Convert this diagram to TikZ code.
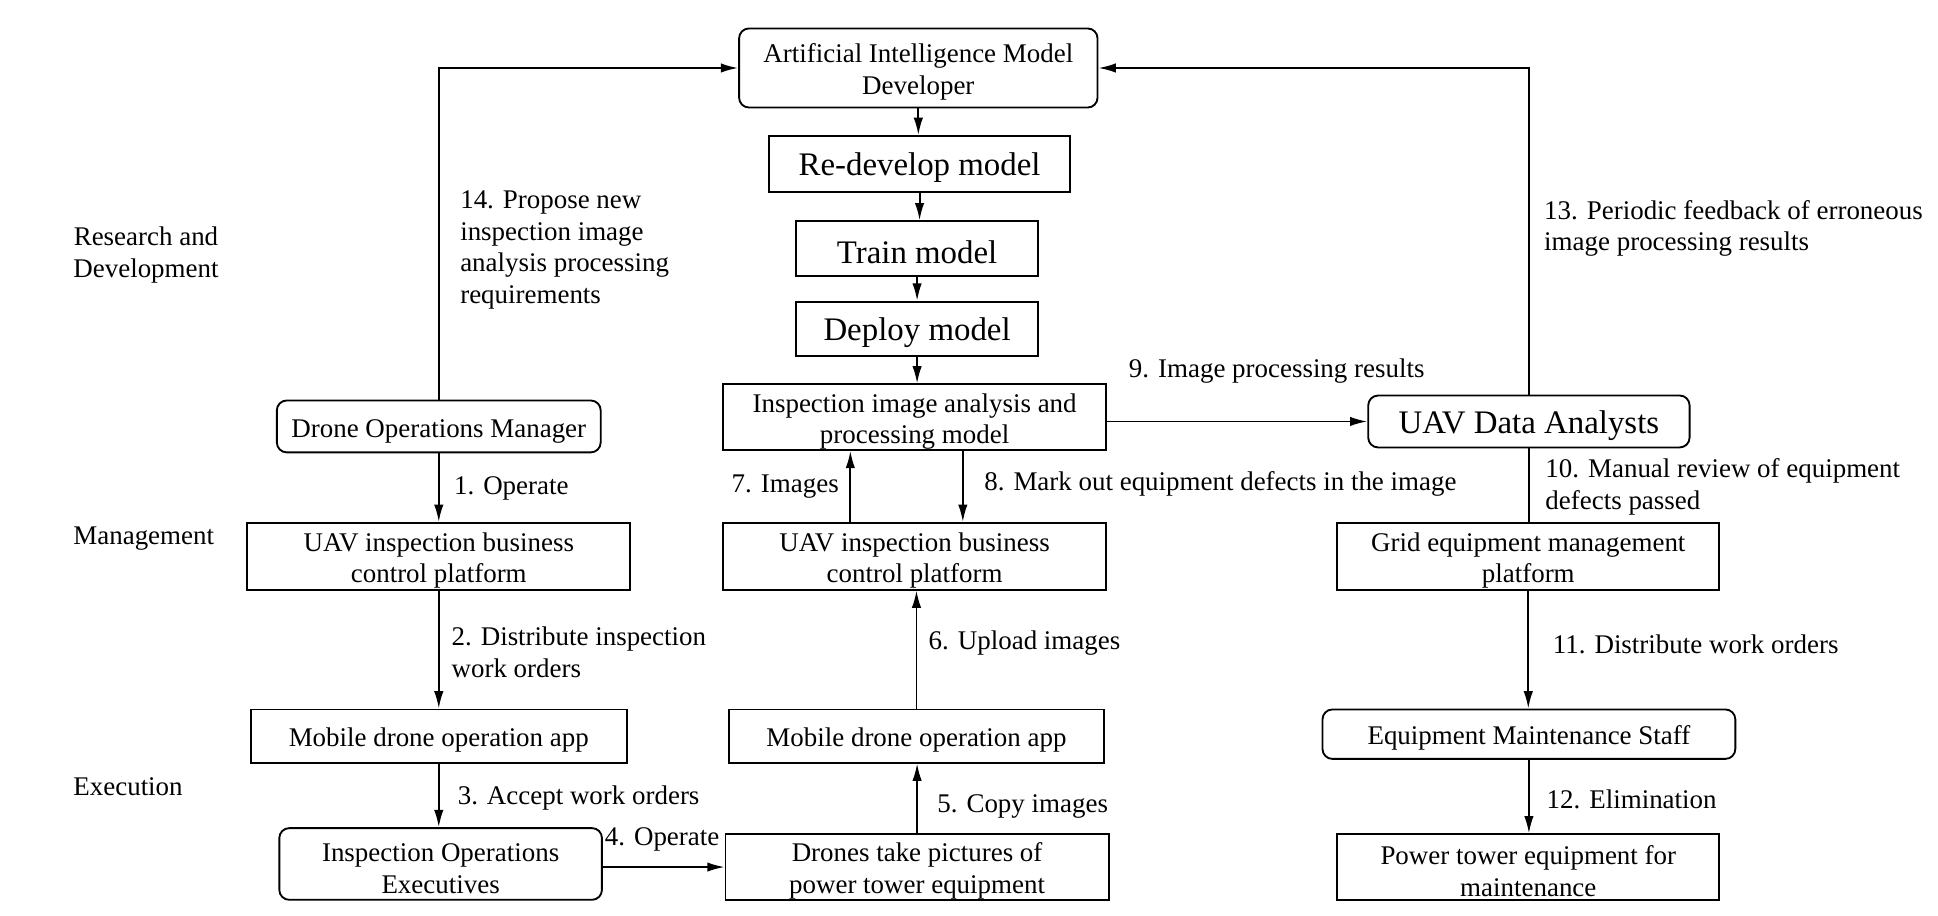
\documentclass[tikz,border=0pt]{standalone}
\usepackage{fontspec}
\setmainfont{Liberation Serif}
\usetikzlibrary{arrows.meta,calc}
\newcommand\nfont{\fontsize{10.9}{12.8}\selectfont}
\newcommand\lfont{\fontsize{13.3}{15.5}\selectfont}
\newcommand\tup{\rule{0pt}{11pt}}
\begin{document}
\begin{tikzpicture}[x=0.5pt,y=-0.5pt,
  box/.style={draw, line width=0.75pt, align=center, inner sep=0pt, font=\nfont,
    execute at begin node={\rule{0pt}{11pt}}},
  rbox/.style={box, rounded corners=4pt},
  big/.style={font=\lfont, execute at begin node={\rule{0pt}{12.4pt}}},
  arr/.style={line width=0.75pt, -{Latex[length=7pt,width=3.8pt]}},
  ln/.style={line width=0.75pt},
  lbl/.style={inner sep=0pt, font=\nfont, align=left, anchor=west,
    execute at begin node={\rule{0pt}{11pt}}}]
\useasboundingbox (0,0) rectangle (1568,741);
% category labels
\node[lbl, align=center] (rd) at (59,203) {\tup Research and\\Development};
\node[lbl] (mg) at (59,432) {Management};
\node[lbl] (ex) at (59,633) {Execution};
% nodes
\node[rbox, minimum width=145pt, minimum height=32pt] (ai) at (743,55) {\tup Artificial Intelligence Model\\Developer};
\node[box, big, minimum width=122pt, minimum height=22.5pt] (redev) at (744,132.5) {Re-develop model};
\node[box, big, minimum width=98pt, minimum height=22pt] (train) at (742,201) {Train model};
\node[box, big, minimum width=98pt, minimum height=22pt] (deploy) at (742,266) {Deploy model};
\node[box, minimum width=155pt, minimum height=26.5pt] (ipm) at (740,337.5) {\tup Inspection image analysis and\\processing model};
\node[rbox, big, minimum width=130pt, minimum height=21pt] (uda) at (1237,341) {UAV Data Analysts};
\node[rbox, minimum width=131pt, minimum height=21pt] (dom) at (355,345) {Drone Operations Manager};
\node[box, minimum width=155pt, minimum height=27pt] (ctlL) at (355,450) {\tup UAV inspection business\\control platform};
\node[box, minimum width=155pt, minimum height=27pt] (ctlM) at (740,450) {\tup UAV inspection business\\control platform};
\node[box, minimum width=154.5pt, minimum height=27pt] (grid) at (1236.5,450) {\tup Grid equipment management\\platform};
\node[box, minimum width=152pt, minimum height=21.5pt] (appL) at (355,595.5) {Mobile drone operation app};
\node[box, minimum width=151.5pt, minimum height=21.5pt] (appM) at (741.5,595.5) {Mobile drone operation app};
\node[rbox, minimum width=167pt, minimum height=20pt] (ems) at (1237,594) {Equipment Maintenance Staff};
\node[rbox, minimum width=130.5pt, minimum height=29pt] (ioe) at (356.5,699) {\tup Inspection Operations\\Executives};
\node[box, minimum width=155pt, minimum height=26.5pt] (drones) at (742,701.5) {\tup Drones take pictures of\\power tower equipment};
\node[box, minimum width=154.5pt, minimum height=26.5pt] (ptm) at (1236.5,701.5) {\tup Power tower equipment for\\maintenance};
% center column
\draw[arr] (ai.south) -- (ai.south |- redev.north);
\draw[arr] (redev.south) -- (redev.south |- train.north);
\draw[arr] (train.south) -- (train.south |- deploy.north);
\draw[arr] (deploy.south) -- (deploy.south |- ipm.north);
\draw[arr] (ipm.east |- uda.west) -- (uda.west);
\node[lbl] (l9) at (913,297) {9. Image processing results};
\draw[arr] (uda.north) |- (ai.east);
\node[lbl] (l13) at (1249,181.5) {\tup 13. Periodic feedback of erroneous\\image processing results};
\draw[arr] (dom.north) |- (ai.west);
\node[lbl] (l14) at (372,198.5) {\tup 14. Propose new\\inspection image\\analysis processing\\requirements};
% left column
\draw[arr] (dom.south) -- (dom.south |- ctlL.north);
\node[lbl] (l1) at (367,391) {1. Operate};
\draw[arr] (ctlL.south) -- (ctlL.south |- appL.north);
\node[lbl] (l2) at (365,524.5) {\tup 2. Distribute inspection\\work orders};
\draw[arr] (appL.south) -- (appL.south |- ioe.north);
\node[lbl] (l3) at (370,642) {3. Accept work orders};
\draw[arr] (ioe.east |- drones.west) -- (drones.west);
\node[lbl] (l4) at (489,675) {4. Operate};
% middle column
\draw[arr] (drones.north) -- (drones.north |- appM.south);
\node[lbl] (l5) at (758,649) {5. Copy images};
\draw[arr] (appM.north) -- (appM.north |- ctlM.south);
\node[lbl] (l6) at (751,517) {6. Upload images};
\coordinate (c7) at ($(ctlM.north)+(-52,0)$);
\draw[arr] (c7) -- (c7 |- ipm.south);
\node[lbl, anchor=east] (l7) at (679,390) {7. Images};
\coordinate (c8) at ($(ipm.south)+(39,0)$);
\draw[arr] (c8) -- (c8 |- ctlM.north);
\node[lbl] (l8) at (796,388) {8. Mark out equipment defects in the image};
% right column
\draw[ln] (uda.south) -- (uda.south |- grid.north);
\node[lbl] (l10) at (1250,390.5) {\tup 10. Manual review of equipment\\defects passed};
\draw[arr] (grid.south) -- (grid.south |- ems.north);
\node[lbl] (l11) at (1256,518) {11. Distribute work orders};
\draw[arr] (ems.south) -- (ems.south |- ptm.north);
\node[lbl] (l12) at (1251,643) {12. Elimination};
\end{tikzpicture}
\end{document}
